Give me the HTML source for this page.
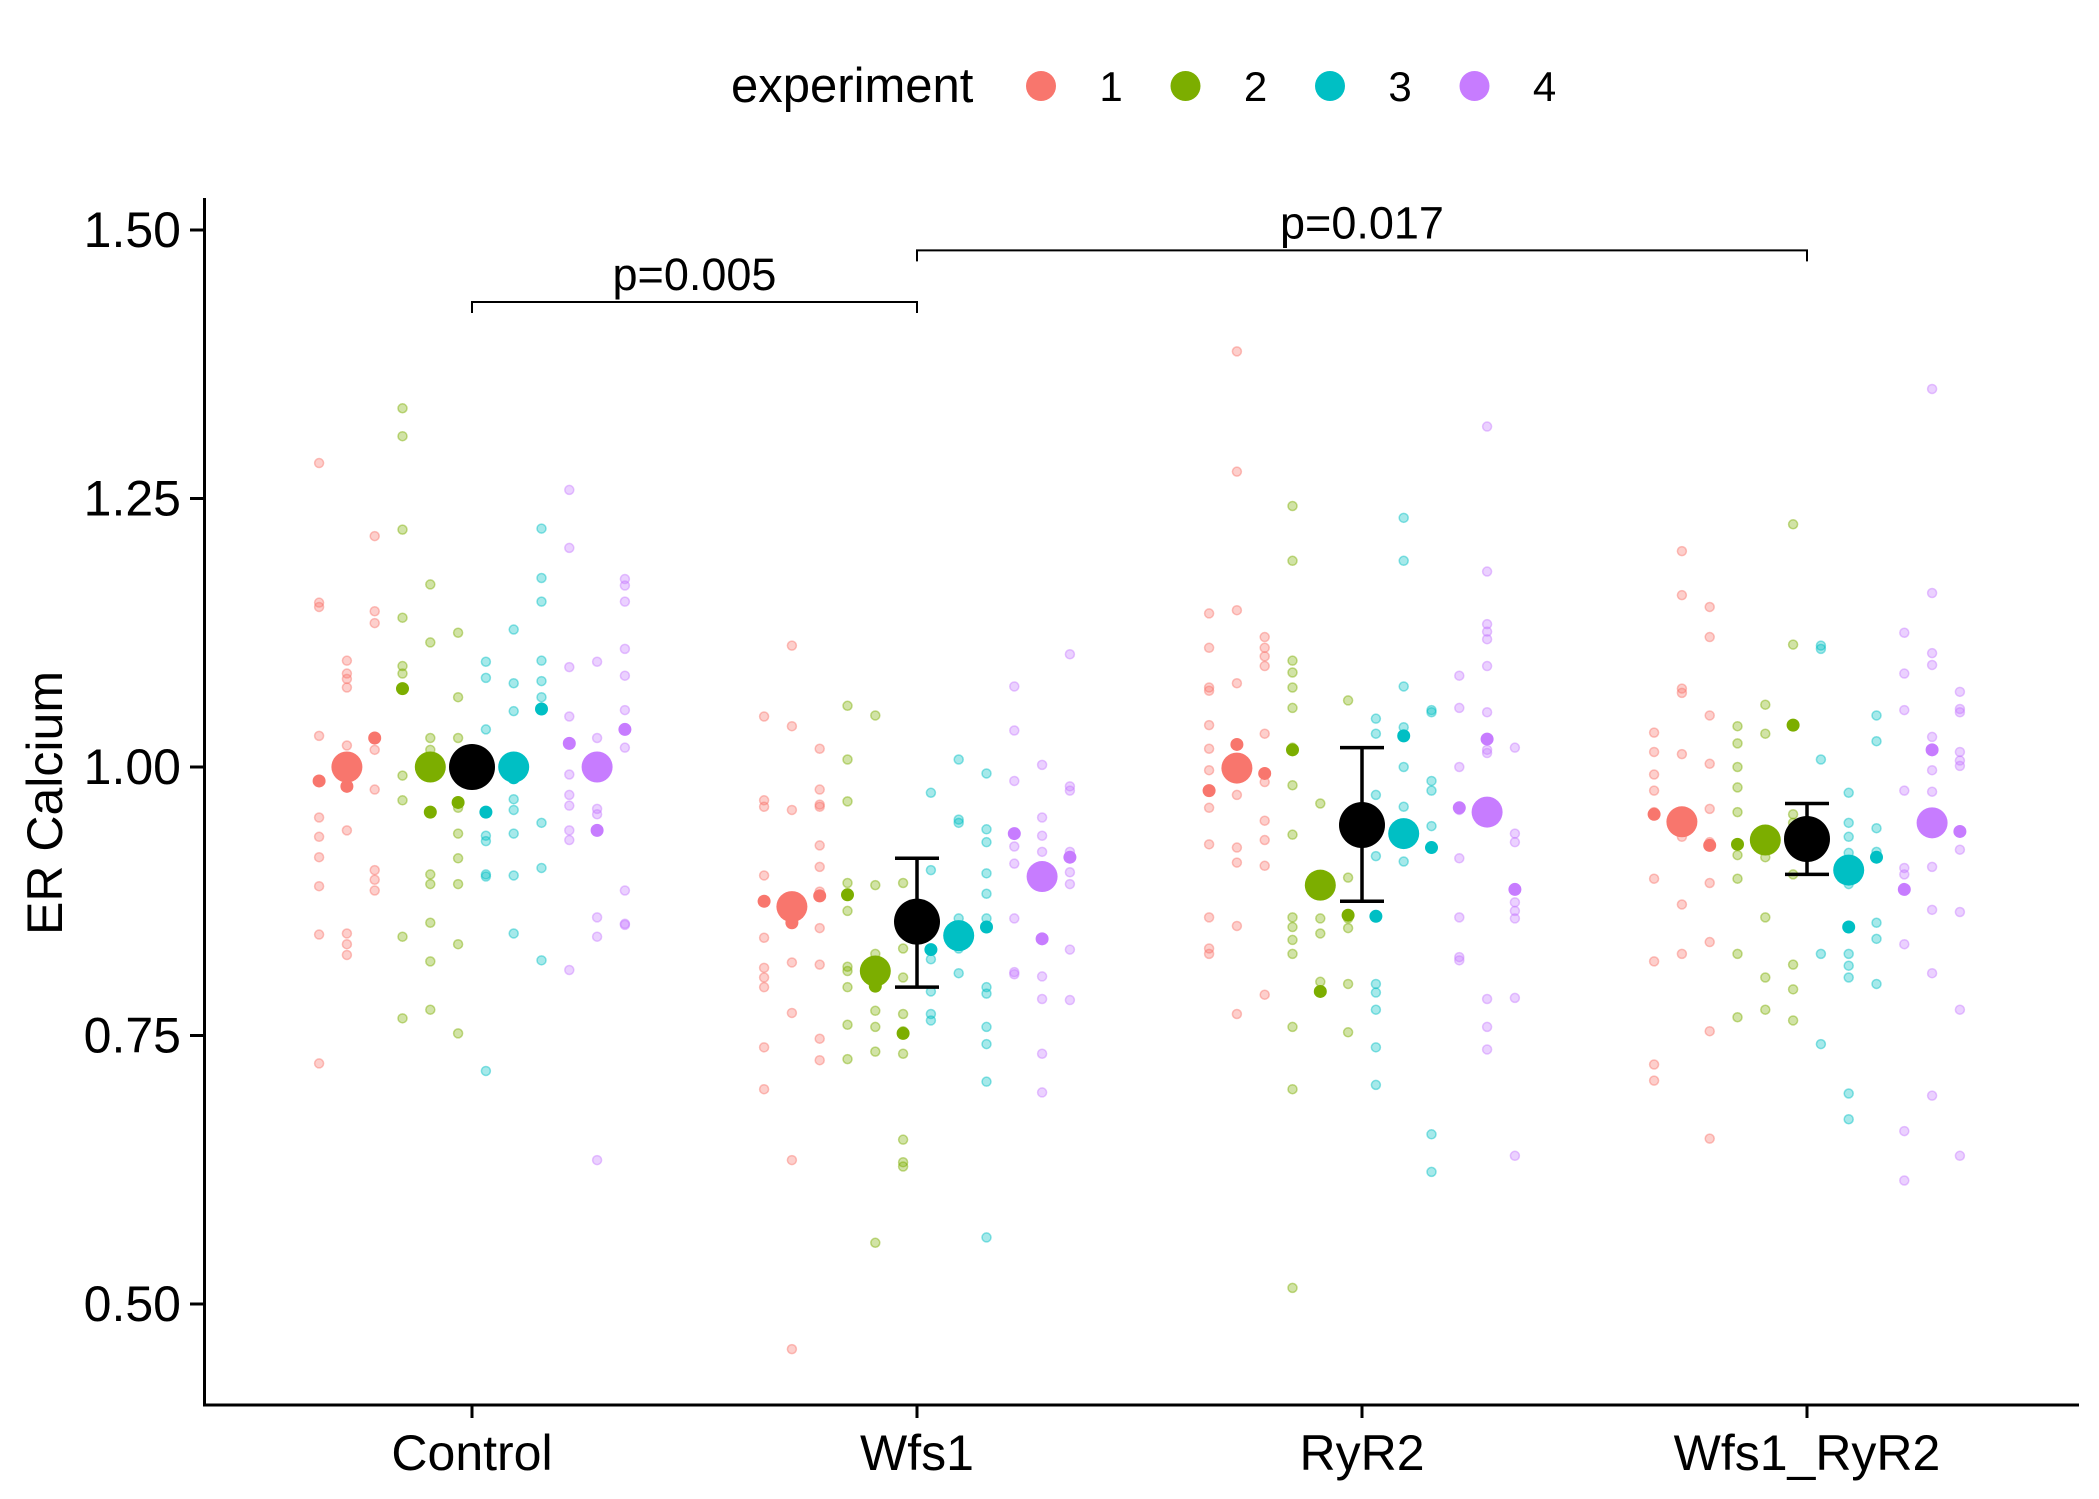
<!DOCTYPE html>
<html><head><meta charset="utf-8"><style>
body{margin:0;background:#fff}
svg{display:block;font-family:"Liberation Sans",Arial,sans-serif}
</style></head><body>
<svg id="chart" width="2099" height="1499" viewBox="0 0 2099 1499" xmlns="http://www.w3.org/2000/svg">
<rect width="2099" height="1499" fill="#fff"/>
<g id="legend">
<text x="731" y="102" font-size="49">experiment</text>
</g>
<g id="axes"></g>
<g id="marks"></g>
</svg>
<script>
const groups=["Control","Wfs1","RyR2","Wfs1_RyR2"];
const experiments=["1","2","3","4"];
const colors=["#F8766D","#7CAE00","#00BFC4","#C77CFF"];
const yTicks=[0.5,0.75,1.0,1.25,1.5];
const yTickLabels=["0.50","0.75","1.00","1.25","1.50"];
// faded cell values: [group][column 0..11] (columns 0-2 exp1, 3-5 exp2, 6-8 exp3, 9-11 exp4)
const cellValues=[
[[1.283,1.153,1.149,1.029,0.953,0.935,0.916,0.889,0.844,0.724],[1.099,1.087,1.082,1.074,1.020,0.941,0.845,0.835,0.825],[1.215,1.145,1.134,1.016,0.979,0.904,0.895,0.885],
 [1.334,1.308,1.221,1.139,1.094,1.087,0.992,0.969,0.842,0.766],[1.170,1.116,1.027,1.016,0.900,0.891,0.855,0.819,0.774],[1.125,1.065,1.027,0.962,0.938,0.915,0.891,0.835,0.752],
 [1.098,1.083,1.035,0.936,0.931,0.900,0.898,0.717],[1.128,1.078,1.052,0.970,0.960,0.938,0.899,0.845],[1.222,1.176,1.154,1.099,1.080,1.065,0.948,0.906,0.820],
 [1.258,1.204,1.093,1.047,0.993,0.974,0.964,0.941,0.932,0.811],[1.098,1.027,0.961,0.956,0.860,0.842,0.634],[1.175,1.169,1.154,1.110,1.085,1.053,1.018,0.885,0.854,0.853]],
[[1.047,0.969,0.963,0.899,0.841,0.813,0.804,0.795,0.739,0.700],[1.113,1.038,0.960,0.860,0.818,0.771,0.634,0.458],[1.017,0.979,0.965,0.963,0.927,0.907,0.884,0.850,0.816,0.747,0.727],
 [1.057,1.007,0.968,0.892,0.866,0.814,0.810,0.795,0.760,0.728],[1.048,0.890,0.826,0.806,0.773,0.758,0.735,0.557],[0.892,0.849,0.831,0.804,0.770,0.754,0.733,0.653,0.632,0.628],
 [0.976,0.904,0.821,0.791,0.770,0.764],[1.007,0.951,0.948,0.859,0.850,0.831,0.808],[0.994,0.942,0.930,0.901,0.882,0.859,0.795,0.789,0.758,0.742,0.707,0.562],
 [1.075,1.034,0.987,0.926,0.910,0.859,0.809,0.807],[1.002,0.953,0.936,0.921,0.841,0.805,0.784,0.733,0.697],[1.105,0.982,0.978,0.921,0.902,0.891,0.830,0.783]],
[[1.143,1.111,1.074,1.071,1.039,1.017,0.997,0.962,0.928,0.860,0.831,0.826],[1.387,1.275,1.146,1.078,0.974,0.925,0.911,0.852,0.770],[1.121,1.111,1.103,1.094,1.031,0.986,0.950,0.932,0.908,0.788],
 [1.243,1.192,1.099,1.088,1.074,1.055,1.018,0.983,0.937,0.860,0.851,0.839,0.826,0.758,0.700,0.515],[0.966,0.859,0.845,0.800],[1.062,0.941,0.897,0.859,0.850,0.798,0.753],
 [1.045,1.031,0.974,0.947,0.917,0.862,0.798,0.790,0.774,0.739,0.704],[1.232,1.192,1.075,1.037,1.0,0.963,0.912],[1.053,1.051,0.987,0.978,0.945,0.658,0.623],
 [1.085,1.055,1.0,0.960,0.915,0.860,0.823,0.820],[1.317,1.182,1.133,1.126,1.119,1.094,1.051,1.016,1.013,0.784,0.758,0.737],[1.018,0.938,0.930,0.874,0.866,0.859,0.785,0.638]],
[[1.032,1.014,0.993,0.978,0.958,0.896,0.819,0.723,0.708],[1.201,1.160,1.073,1.069,1.012,0.935,0.872,0.826],[1.149,1.121,1.048,1.003,0.961,0.930,0.892,0.837,0.754,0.654],
 [1.038,1.022,1.0,0.981,0.958,0.918,0.896,0.826,0.767],[1.058,1.031,0.936,0.916,0.860,0.804,0.774],[1.226,1.114,1.039,0.956,0.948,0.900,0.816,0.793,0.764],
 [1.113,1.110,1.007,0.941,0.826,0.742],[0.976,0.948,0.935,0.920,0.891,0.826,0.815,0.804,0.696,0.672],[1.048,1.024,0.943,0.921,0.855,0.840,0.798],
 [1.125,1.087,1.053,0.978,0.906,0.900,0.835,0.661,0.615],[1.352,1.162,1.106,1.095,1.028,0.997,0.977,0.907,0.867,0.808,0.694],[1.070,1.054,1.051,1.014,1.006,1.001,0.923,0.865,0.774,0.638]]
];
// per-coverslip means [group][column]
const coverslipMeans=[
[0.987,0.982,1.027,1.073,0.958,0.967,0.958,0.990,1.054,1.022,0.941,1.035],
[0.875,0.855,0.880,0.881,0.796,0.752,0.830,0.843,0.851,0.938,0.840,0.916],
[0.978,1.021,0.994,1.016,0.791,0.862,0.861,1.029,0.925,0.962,1.026,0.886],
[0.956,0.953,0.927,0.928,0.930,1.039,0.930,0.851,0.916,0.886,1.016,0.940]];
// experiment means [group][experiment]
const experimentMeans=[[1.0,1.0,1.0,1.0],[0.870,0.810,0.843,0.898],[0.999,0.890,0.938,0.958],[0.949,0.932,0.904,0.948]];
const grandMeans=[1.0,0.856,0.946,0.933];
const errLow=[1.0,0.795,0.875,0.900];
const errHigh=[1.0,0.915,1.018,0.966];
const brackets=[{from:0,to:1,y:1.433,label:"p=0.005"},{from:1,to:3,y:1.481,label:"p=0.017"}];

const NS="http://www.w3.org/2000/svg";
const yS=v=>230+(1.5-v)*1074;
const xS=i=>472+i*445;
const colX=(g,k)=>xS(g)+(k-5.5)*27.8;
function mk(tag,attrs,parent){const e=document.createElementNS(NS,tag);for(const k in attrs)e.setAttribute(k,attrs[k]);parent.appendChild(e);return e;}
const axes=document.getElementById('axes'),marks=document.getElementById('marks'),legend=document.getElementById('legend');

// legend
experiments.forEach((ex,i)=>{
  const cx=1041+i*144.5;
  const c=mk('circle',{cx:cx,cy:86,r:15,fill:colors[i]},legend);
  
  
  const t=mk('text',{x:cx+70,y:101,'font-size':42,'text-anchor':'middle'},legend);
  t.textContent=ex;
  
  
});

// axes
let l=mk('line',{x1:204.5,y1:198,x2:204.5,y2:1406,stroke:'#000','stroke-width':3},axes);


l=mk('line',{x1:203,y1:1405,x2:2079,y2:1405,stroke:'#000','stroke-width':3},axes);


yTicks.forEach((v,i)=>{
  const tk=mk('line',{x1:190,x2:204,y1:yS(v),y2:yS(v),stroke:'#000','stroke-width':3},axes);
  
  
  const t=mk('text',{x:181,y:yS(v)+17,'font-size':50,'text-anchor':'end'},axes);
  t.textContent=yTickLabels[i];
  
  
});
groups.forEach((g,i)=>{
  const tk=mk('line',{x1:xS(i),x2:xS(i),y1:1405,y2:1418,stroke:'#000','stroke-width':3},axes);
  
  
  const t=mk('text',{x:xS(i),y:1470,'font-size':50,'text-anchor':'middle'},axes);
  t.textContent=g;
  
  
});
const yt=mk('text',{x:0,y:0,'font-size':50,'text-anchor':'middle',transform:'translate(62,803) rotate(-90)'},axes);
yt.textContent='ER Calcium';



// faded points
cellValues.forEach((cols,g)=>cols.forEach((vals,k)=>vals.forEach(v=>{
  const c=mk('circle',{cx:colX(g,k),cy:yS(v),r:4.5,fill:colors[Math.floor(k/3)],'fill-opacity':0.35,stroke:colors[Math.floor(k/3)],'stroke-opacity':0.45,'stroke-width':1.5},marks);
  
  
})));
// coverslip means
coverslipMeans.forEach((vals,g)=>vals.forEach((v,k)=>{
  const c=mk('circle',{cx:colX(g,k),cy:yS(v),r:6.5,fill:colors[Math.floor(k/3)]},marks);
  
  
}));
// experiment means
experimentMeans.forEach((vals,g)=>vals.forEach((v,e)=>{
  const c=mk('circle',{cx:colX(g,e*3+1),cy:yS(v),r:15.5,fill:colors[e]},marks);
  
  
}));
// grand means + error bars
grandMeans.forEach((v,g)=>{
  const x=xS(g);
  if(errHigh[g]-errLow[g]>0.001){
    const eb=mk('path',{d:`M${x-22},${yS(errHigh[g])}H${x+22}M${x},${yS(errHigh[g])}V${yS(errLow[g])}M${x-22},${yS(errLow[g])}H${x+22}`,stroke:'#000','stroke-width':3.5,fill:'none'},marks);
    
    
  }
  const c=mk('circle',{cx:x,cy:yS(v),r:23,fill:'#000'},marks);
  
  
});
// brackets
brackets.forEach(b=>{
  const y=yS(b.y),x1=xS(b.from),x2=xS(b.to);
  const p=mk('path',{d:`M${x1},${y+11}V${y}H${x2}V${y+11}`,stroke:'#000','stroke-width':2,fill:'none'},marks);
  
  
  const t=mk('text',{x:(x1+x2)/2,y:y-12,'font-size':45,'text-anchor':'middle'},marks);
  t.textContent=b.label;
  
  
});
</script>
</body></html>
